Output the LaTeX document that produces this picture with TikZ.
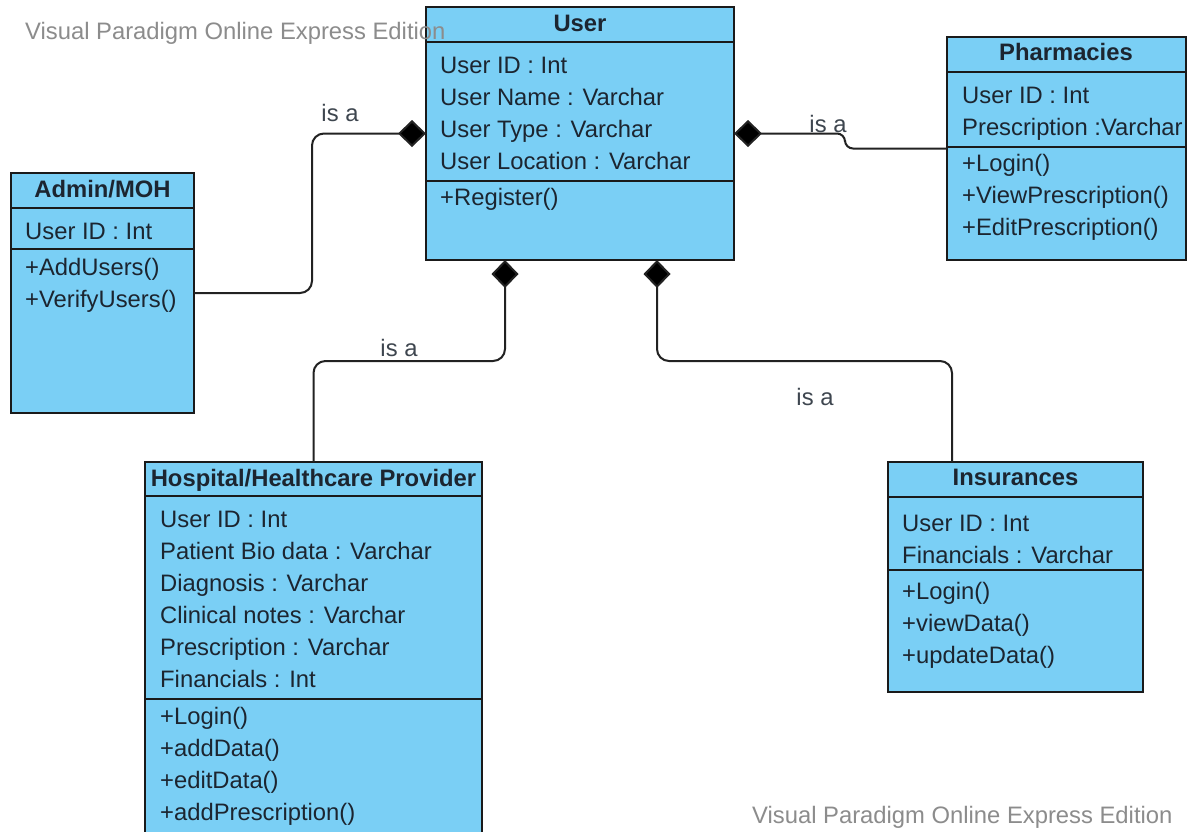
\documentclass[tikz,border=0pt]{standalone}
\usepackage{fontspec}
\setmainfont{Liberation Sans}
\usetikzlibrary{arrows.meta,calc}
\definecolor{boxc}{HTML}{7ACFF5}
\definecolor{linec}{HTML}{1A1A1A}
\definecolor{txtc}{HTML}{1C2530}
\definecolor{connc}{HTML}{222222}
\definecolor{wmc}{HTML}{8C8C8C}
\tikzset{
  cls/.style={draw=linec, fill=boxc, line width=1.5pt, anchor=north west, inner sep=0pt, outer sep=0pt},
  ttl/.style={font=\bfseries\fontsize{23.8}{28}\selectfont, text=txtc, anchor=base, inner sep=0pt},
  itm/.style={font=\fontsize{23.8}{28}\selectfont, text=txtc, anchor=base west, inner sep=0pt},
  sepline/.style={draw=linec, line width=1.5pt},
  conn/.style={draw=connc, line width=2pt, rounded corners=12pt},
  lbl/.style={font=\fontsize{23.8}{28}\selectfont, text=txtc!85!white, anchor=base, inner sep=0pt},
  wm/.style={font=\fontsize{23.8}{28}\selectfont, text=wmc, anchor=base west, inner sep=0pt},
  dia/.style={-{Diamond[length=28pt,width=27pt,fill=black]}}
}
\begin{document}
\begin{tikzpicture}[x=1pt,y=-1pt]
\useasboundingbox (0,0) rectangle (1188,831);
\clip (0,0) rectangle (1188,831);
\fill[white] (0,0) rectangle (1188,831);

% ---------- User ----------
\node[cls, minimum width=308pt, minimum height=253pt] (user) at (426,7) {};
\draw[sepline] (426,42) -- (734,42);
\draw[sepline] (426,181) -- (734,181);
\node[ttl] (ut) at (580,31) {User};
\node[itm] (u1) at (440,73) {User ID : Int};
\node[itm] (u2) at (440,105) {User Name : Varchar};
\node[itm] (u3) at (440,137) {User Type : Varchar};
\node[itm] (u4) at (440,169) {User Location : Varchar};
\node[itm] (u5) at (440,205) {+Register()};

% ---------- Pharmacies ----------
\node[cls, minimum width=239pt, minimum height=223pt] (pharm) at (947,37) {};
\draw[sepline] (947,72) -- (1186,72);
\draw[sepline] (947,147) -- (1186,147);
\node[ttl] (pt) at (1066,60) {Pharmacies};
\node[itm] (p1) at (962,103) {User ID : Int};
\node[itm] (p2) at (962,135) {Prescription :Varchar};
\node[itm] (p3) at (962,171) {+Login()};
\node[itm] (p4) at (962,203) {+ViewPrescription()};
\node[itm] (p5) at (962,235) {+EditPrescription()};

% ---------- Admin/MOH ----------
\node[cls, minimum width=183pt, minimum height=240pt] (admin) at (11,173) {};
\draw[sepline] (11,208) -- (194,208);
\draw[sepline] (11,249) -- (194,249);
\node[ttl] (at) at (102.5,197) {Admin/MOH};
\node[itm] (a1) at (25,239) {User ID : Int};
\node[itm] (a2) at (25,275) {+AddUsers()};
\node[itm] (a3) at (25,307) {+VerifyUsers()};

% ---------- Hospital ----------
\node[cls, minimum width=337pt, minimum height=400pt] (hosp) at (145,462) {};
\draw[sepline] (145,496) -- (482,496);
\draw[sepline] (145,699) -- (482,699);
\node[ttl] (ht) at (313.5,486) {Hospital/Healthcare Provider};
\node[itm] (h1) at (160,527) {User ID : Int};
\node[itm] (h2) at (160,559) {Patient Bio data : Varchar};
\node[itm] (h3) at (160,591) {Diagnosis : Varchar};
\node[itm] (h4) at (160,623) {Clinical notes : Varchar};
\node[itm] (h5) at (160,655) {Prescription : Varchar};
\node[itm] (h6) at (160,687) {Financials : Int};
\node[itm] (h7) at (160,724) {+Login()};
\node[itm] (h8) at (160,756) {+addData()};
\node[itm] (h9) at (160,788) {+editData()};
\node[itm] (h10) at (160,820) {+addPrescription()};

% ---------- Insurances ----------
\node[cls, minimum width=255pt, minimum height=230pt] (ins) at (888,462) {};
\draw[sepline] (888,497) -- (1143,497);
\draw[sepline] (888,570) -- (1143,570);
\node[ttl] (it) at (1015.5,485) {Insurances};
\node[itm] (i1) at (902,531) {User ID : Int};
\node[itm] (i2) at (902,563) {Financials : Varchar};
\node[itm] (i3) at (902,599) {+Login()};
\node[itm] (i4) at (902,631) {+viewData()};
\node[itm] (i5) at (902,663) {+updateData()};

% ---------- Connectors ----------
\draw[conn, dia] (admin.east) -| ([xshift=-114pt]user.west) -- (user.west);
\draw[conn, dia, rounded corners=8pt] (pharm.west) -- ($(pharm.west)+(-102,0)$) -- ($(user.east)+(111,0)$) -- (user.east);
\draw[conn, dia] (hosp.north) |- ($(user.south)+(-75,101)$) -- ($(user.south)+(-75,0)$);
\draw[conn, dia] ([xshift=-63.5pt]ins.north) |- ($(user.south)+(77,101)$) -- ($(user.south)+(77,0)$);

% ---------- Labels ----------
\node[lbl] (l1) at (340,121) {is a};
\node[lbl] (l2) at (828,132) {is a};
\node[lbl] (l3) at (399,356) {is a};
\node[lbl] (l4) at (815,405) {is a};

% ---------- Watermarks ----------
\node[wm] (w1) at (25,39) {Visual Paradigm Online Express Edition};
\node[wm] (w2) at (752,823) {Visual Paradigm Online Express Edition};
\end{tikzpicture}
\end{document}
